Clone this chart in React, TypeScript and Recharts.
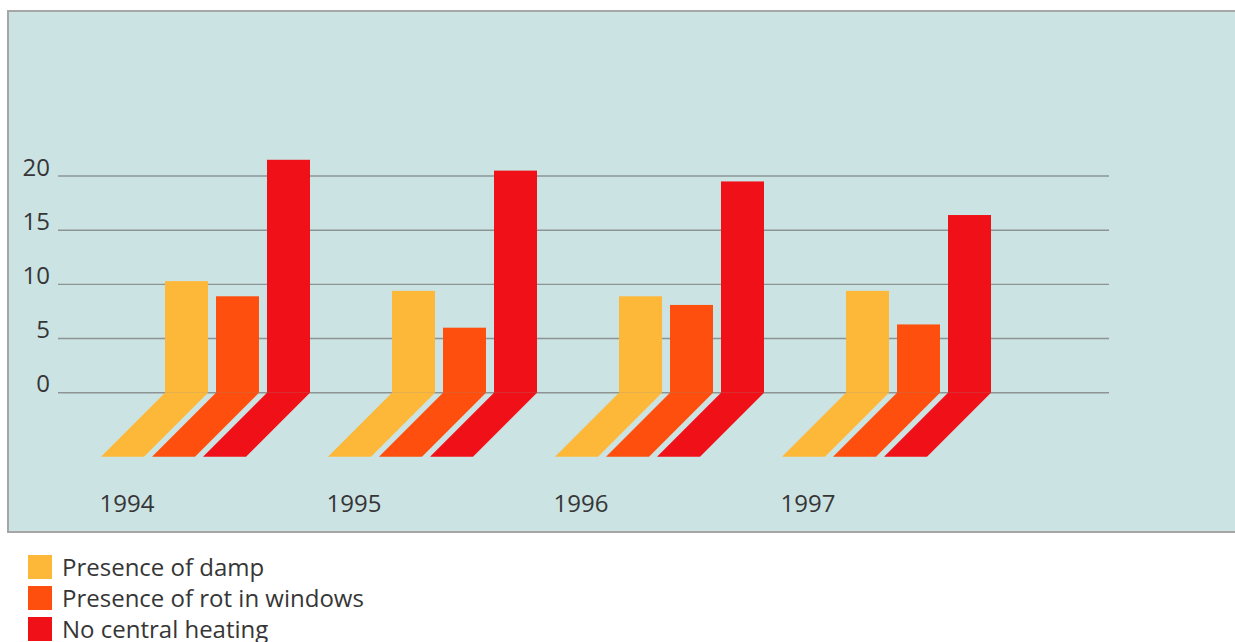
import React from 'react';
import { BarChart, Bar, XAxis, YAxis, CartesianGrid } from 'recharts';

// Share of dwellings (%) with each defect, by survey year
const years = ['1994', '1995', '1996', '1997'];
const damp = [10.3, 9.4, 8.9, 9.4];
const rotInWindows = [8.9, 6.0, 8.1, 6.3];
const noCentralHeating = [21.5, 20.5, 19.5, 16.4];
const yTicks = [0, 5, 10, 15, 20];

const series = [
  { key: 'damp', name: 'Presence of damp', color: '#feb839', values: damp },
  { key: 'rot', name: 'Presence of rot in windows', color: '#fe4f0e', values: rotInWindows },
  { key: 'heating', name: 'No central heating', color: '#f01017', values: noCentralHeating },
];

const data = years.map((year, i) => {
  const row: Record<string, string | number> = { year };
  series.forEach((s) => { row[s.key] = s.values[i]; });
  return row;
});

const FONT = '"Open Sans", "Noto Sans", sans-serif';
const TEXT = '#363636';
const PANEL = '#cbe3e3';
const DEPTH = 64; // the 45° "floor" each bar throws down to the left

// Column plus a slanted parallelogram hanging under the zero line
const FloorBar = (props: any) => {
  const { x, y, width, height, fill } = props;
  if (width == null || height == null) return null;
  const base = y + height;
  const pts = [
    `${x},${base}`,
    `${x + width},${base}`,
    `${x + width - DEPTH},${base + DEPTH}`,
    `${x - DEPTH},${base + DEPTH}`,
  ].join(' ');
  return (
    <g>
      <rect x={x} y={y} width={width} height={height} fill={fill} />
      <polygon points={pts} fill={fill} />
    </g>
  );
};

const YTick = ({ x, y, payload }: any) => (
  <text x={x} y={y - 0.5} textAnchor="end" fill={TEXT} fontFamily={FONT} fontSize={24}>
    {payload.value}
  </text>
);

// year sits under the left foot of its group's floor
const XTick = ({ x, y, payload }: any) => (
  <text x={x - 138} y={y + 111} textAnchor="start" fill={TEXT} fontFamily={FONT} fontSize={24}>
    {payload.value}
  </text>
);

export default function App() {
  return (
    <div style={{ position: 'absolute', left: 0, top: 0, width: 1235, height: 642, overflow: 'hidden', background: '#fff' }}>
      <div
        style={{
          position: 'absolute', left: 7, top: 10, width: 1228, height: 523, boxSizing: 'border-box',
          background: PANEL, borderTop: '2px solid #a6a6a6', borderLeft: '2px solid #a6a6a6', borderBottom: '2px solid #a6a6a6',
        }}
      />
      <div style={{ position: 'absolute', left: 0, top: 0 }}>
        <BarChart
          width={1235}
          height={540}
          data={data}
          margin={{ top: 67.7, right: 126, bottom: 27.3, left: 0 }}
          barSize={43}
          barGap={8}
        >
          <CartesianGrid vertical={false} horizontalValues={yTicks} stroke="#8e9494" strokeWidth={1.4} />
          <XAxis
            dataKey="year"
            axisLine={false}
            tickLine={false}
            height={120}
            interval={0}
            padding={{ left: 66, right: 77 }}
            tick={<XTick />}
          />
          <YAxis
            domain={[0, 30]}
            ticks={yTicks}
            axisLine={false}
            tickLine={false}
            width={58}
            tick={<YTick />}
          />
          {series.map((s) => (
            <Bar key={s.key} dataKey={s.key} name={s.name} fill={s.color} shape={<FloorBar />} isAnimationActive={false} />
          ))}
        </BarChart>
      </div>
      {series.map((s, i) => (
        <div
          key={s.key}
          style={{ position: 'absolute', left: 28, top: 555 + i * 31, height: 24, display: 'flex', alignItems: 'center' }}
        >
          <span style={{ display: 'inline-block', width: 24, height: 24, background: s.color }} />
          <span style={{ marginLeft: 10, fontFamily: FONT, fontSize: 24, lineHeight: '24px', color: TEXT, whiteSpace: 'nowrap' }}>
            {s.name}
          </span>
        </div>
      ))}
    </div>
  );
}
